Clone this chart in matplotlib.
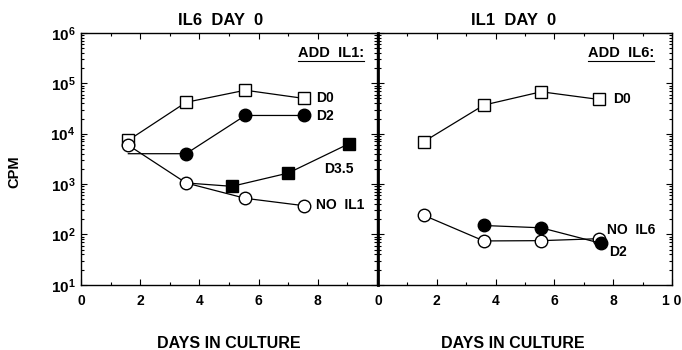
import matplotlib
matplotlib.use("Agg")
import matplotlib.pyplot as plt
from matplotlib.lines import Line2D
from matplotlib.ticker import FixedLocator, LogLocator, NullFormatter

plt.rcParams['font.family'] = ['Liberation Sans', 'DejaVu Sans']
plt.rcParams['font.weight'] = 'bold'
plt.rcParams['mathtext.fontset'] = 'custom'
plt.rcParams['mathtext.rm'] = 'Liberation Sans:bold'
plt.rcParams['mathtext.bf'] = 'Liberation Sans:bold'

# left panel: IL6 day 0, add IL1
days = [1.6, 3.55, 5.55, 7.55]
il6_d0 = [7400, 42000, 73000, 50000]
il6_d2 = [4000, 4000, 23000, 23000]
d35_days = [3.55, 5.1, 7.0, 9.05]
il6_d35 = [1050, 900, 1650, 6300]
il6_no_il1 = [5900, 1050, 520, 370]

# right panel: IL1 day 0, add IL6
days_r = [1.55, 3.6, 5.55, 7.5]
il1_d0 = [6900, 37000, 68000, 48000]
d2_days_r = [3.6, 5.55, 7.6]
il1_d2 = [150, 135, 66]
il1_no_il6 = [240, 74, 75, 82]

LW = 0.9
MS = 9

fig = plt.figure(figsize=(6.82, 3.5), dpi=100)
axL = fig.add_axes([81 / 682, 1 - 284.7 / 350, 296 / 682, 251.7 / 350])
axR = fig.add_axes([378 / 682, 1 - 284.7 / 350, 294 / 682, 251.7 / 350])


def line(ax, x, y, marker, filled, every=None):
    ax.plot(x, y, color='black', lw=LW, marker=marker, ms=MS,
            mfc='black' if filled else 'white', mec='black', mew=1.0,
            markevery=every, zorder=3)


line(axL, days, il6_d0, 's', False)
line(axL, days, il6_d2, 'o', True, [1, 2, 3])
line(axL, d35_days, il6_d35, 's', True, [1, 2, 3])
line(axL, days, il6_no_il1, 'o', False)

line(axR, days_r, il1_d0, 's', False)
line(axR, days_r, il1_no_il6, 'o', False)
line(axR, d2_days_r, il1_d2, 'o', True)

for ax in (axL, axR):
    ax.set_yscale('log')
    ax.set_ylim(10, 1e6)
    ax.set_xlim(0, 10)
    ax.xaxis.set_minor_locator(FixedLocator([1, 3, 5, 7, 9]))
    ax.yaxis.set_minor_locator(LogLocator(base=10, subs=range(2, 10)))
    ax.yaxis.set_minor_formatter(NullFormatter())
    ax.tick_params(which='both', direction='in', top=True, right=True,
                   labelsize=10, width=0.8)
    ax.tick_params(which='major', length=4)
    ax.tick_params(which='minor', length=2)
    ax.tick_params(axis='x', pad=7)
    for s in ax.spines.values():
        s.set_linewidth(1.0)

axL.set_xticks([0, 2, 4, 6, 8, 10])
axL.set_xticklabels(['0', '2', '4', '6', '8', ''])
axL.set_yticks([10, 100, 1e3, 1e4, 1e5, 1e6])
axL.set_yticklabels([r'$\mathbf{10^{%d}}$' % i for i in range(1, 7)])
axL.tick_params(axis='y', labelsize=11, pad=4)
axL.set_ylabel('CPM', fontsize=10.5, fontweight='bold')
axL.yaxis.set_label_coords(-0.2, 0.45)

axR.set_xticks([0, 2, 4, 6, 8, 10])
axR.set_xticklabels(['0', '2', '4', '6', '8', '1 0'])
axR.set_yticks([10, 100, 1e3, 1e4, 1e5, 1e6])
axR.tick_params(axis='y', labelleft=False)
axR.spines['left'].set_linewidth(2.0)

axL.set_title('IL6  DAY  0', fontsize=12, fontweight='bold', pad=6, x=0.47)
axR.set_title('IL1  DAY  0', fontsize=12, fontweight='bold', pad=6, x=0.46)
axL.set_xlabel('DAYS IN CULTURE', fontsize=11.5, fontweight='bold')
axR.set_xlabel('DAYS IN CULTURE', fontsize=11.5, fontweight='bold')
axL.xaxis.set_label_coords(0.5, -0.205)
axR.xaxis.set_label_coords(0.46, -0.205)

lab = dict(fontsize=10, fontweight='bold', va='center', ha='left')
axL.text(7.95, 52000, 'D0', **lab)
axL.text(7.95, 22400, 'D2', **lab)
axL.text(8.2, 1980, 'D3.5', **lab)
axL.text(7.95, 375, 'NO  IL1', **lab)
axR.text(8.0, 48000, 'D0', **lab)
axR.text(7.8, 121, 'NO  IL6', **lab)
axR.text(7.85, 44, 'D2', **lab)

heads = [axL.text(9.55, 4e5, 'ADD  IL1:', fontsize=10.5, fontweight='bold', ha='right', va='center'),
         axR.text(9.4, 4e5, 'ADD  IL6:', fontsize=10.5, fontweight='bold', ha='right', va='center')]

fig.canvas.draw()
inv = fig.transFigure.inverted()
for t in heads:
    bb = t.get_window_extent()
    (x0, y0), (x1, _) = inv.transform([(bb.x0, bb.y0 - 1), (bb.x1, bb.y0 - 1)])
    fig.add_artist(Line2D([x0, x1], [y0, y0], color='black', lw=0.8))

fig.savefig('out.png', dpi=100)
